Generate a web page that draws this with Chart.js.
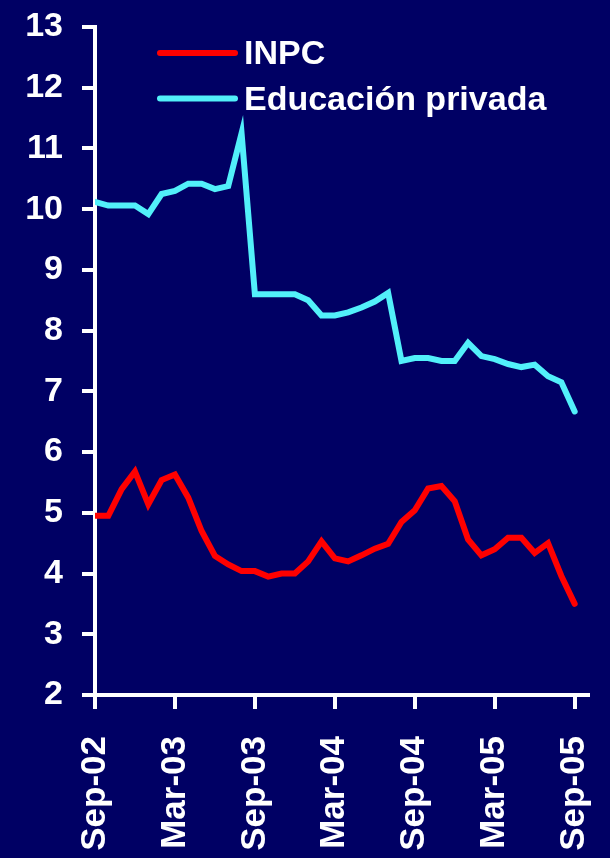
<!DOCTYPE html>
<html>
<head>
<meta charset="utf-8">
<script src="https://cdn.jsdelivr.net/npm/chart.js@4.4.1/dist/chart.umd.min.js"></script>
<style>
    html, body { margin: 0; padding: 0; background: #000064; }
    #contenedor { width: 610px; height: 858px; position: relative; }
</style>
</head>
<body>
<div id="contenedor"><canvas id="grafico-inflacion"></canvas></div>
<script>
// Meses de sep-02 a sep-05
const meses = [
    'Sep-02', 'Oct-02', 'Nov-02', 'Dic-02',
    'Ene-03', 'Feb-03', 'Mar-03', 'Abr-03', 'May-03', 'Jun-03', 'Jul-03', 'Ago-03', 'Sep-03', 'Oct-03', 'Nov-03', 'Dic-03',
    'Ene-04', 'Feb-04', 'Mar-04', 'Abr-04', 'May-04', 'Jun-04', 'Jul-04', 'Ago-04', 'Sep-04', 'Oct-04', 'Nov-04', 'Dic-04',
    'Ene-05', 'Feb-05', 'Mar-05', 'Abr-05', 'May-05', 'Jun-05', 'Jul-05', 'Ago-05', 'Sep-05'
];

// Inflación anual (%)
const inpc = [
    4.95, 4.95, 5.39, 5.68, 5.14, 5.54, 5.63, 5.25, 4.70, 4.29, 4.15, 4.04, 4.04,
    3.95, 4.00, 4.00, 4.20, 4.53, 4.25, 4.20, 4.30, 4.41, 4.49, 4.85, 5.04, 5.40,
    5.44, 5.19, 4.56, 4.30, 4.40, 4.59, 4.59, 4.34, 4.50, 3.96, 3.50
];

const educacionPrivada = [
    10.12, 10.06, 10.06, 10.06, 9.92, 10.25, 10.30, 10.42, 10.42, 10.33, 10.38, 11.25, 8.60,
    8.60, 8.60, 8.60, 8.50, 8.25, 8.25, 8.30, 8.38, 8.48, 8.62, 7.50, 7.55, 7.55,
    7.50, 7.50, 7.80, 7.58, 7.53, 7.45, 7.40, 7.44, 7.25, 7.15, 6.67
];

// Posiciones de las etiquetas del eje X (cada seis meses)
const marcasX = [0, 6, 12, 18, 24, 30, 36];

const series = [
    { nombre: 'INPC', valores: inpc, color: '#ff0000' },
    { nombre: 'Educación privada', valores: educacionPrivada, color: '#52f0fa' }
];

const fuente = { family: "'Liberation Sans', Arial, sans-serif", size: 34, weight: 'bold' };
const fuenteX = { ...fuente, size: 35 };

// Leyenda dibujada a mano dentro del área del gráfico
const leyenda = {
    id: 'leyenda',
    afterDraw(chart) {
        const ctx = chart.ctx;
        ctx.save();
        ctx.font = `bold ${fuente.size}px ${fuente.family}`;
        ctx.textBaseline = 'alphabetic';
        ctx.fillStyle = '#ffffff';
        ctx.lineCap = 'round';
        ctx.lineWidth = 6;
        chart.data.datasets.forEach((ds, i) => {
            const y = 53 + i * 45.5;
            ctx.strokeStyle = ds.borderColor;
            ctx.beginPath();
            ctx.moveTo(160, y);
            ctx.lineTo(235, y);
            ctx.stroke();
            ctx.fillText(ds.label, 244, y + 11);
        });
        ctx.restore();
    }
};

const ejeBlanco = {
    grid: { drawOnChartArea: false, drawTicks: true, color: '#ffffff', lineWidth: 4 },
    border: { display: true, color: '#ffffff', width: 4 }
};

new Chart(document.getElementById('grafico-inflacion'), {
    type: 'line',
    data: {
        datasets: series.map(s => ({
            label: s.nombre,
            data: s.valores.map((v, i) => ({ x: i, y: v })),
            borderColor: s.color,
            backgroundColor: s.color,
            borderWidth: 6,
            borderCapStyle: 'round',
            pointRadius: 0,
            tension: 0,
            fill: false
        }))
    },
    options: {
        responsive: true,
        maintainAspectRatio: false,
        animation: false,
        layout: { padding: { left: 0, top: 27, right: 22, bottom: 0 } },
        plugins: {
            legend: { display: false },
            tooltip: { enabled: false }
        },
        scales: {
            x: {
                type: 'linear',
                min: 0,
                max: 37,
                afterBuildTicks: scale => {
                    scale.ticks = marcasX.map(v => ({ value: v }));
                },
                afterFit: scale => {
                    scale.height = 163;
                    scale.paddingLeft = 0;
                    scale.paddingRight = 0;
                },
                ticks: {
                    color: '#ffffff',
                    font: fuenteX,
                    autoSkip: false,
                    maxRotation: 90,
                    minRotation: 90,
                    padding: 27,
                    callback: v => meses[v]
                },
                grid: { ...ejeBlanco.grid, tickLength: 14 },
                border: ejeBlanco.border
            },
            y: {
                min: 2,
                max: 13,
                afterFit: scale => {
                    scale.width = 95;
                    scale.paddingTop = 0;
                    scale.paddingBottom = 0;
                },
                ticks: {
                    stepSize: 1,
                    color: '#ffffff',
                    font: fuente,
                    padding: 19
                },
                grid: { ...ejeBlanco.grid, tickLength: 13 },
                border: ejeBlanco.border
            }
        }
    },
    plugins: [leyenda]
});
</script>
</body>
</html>
